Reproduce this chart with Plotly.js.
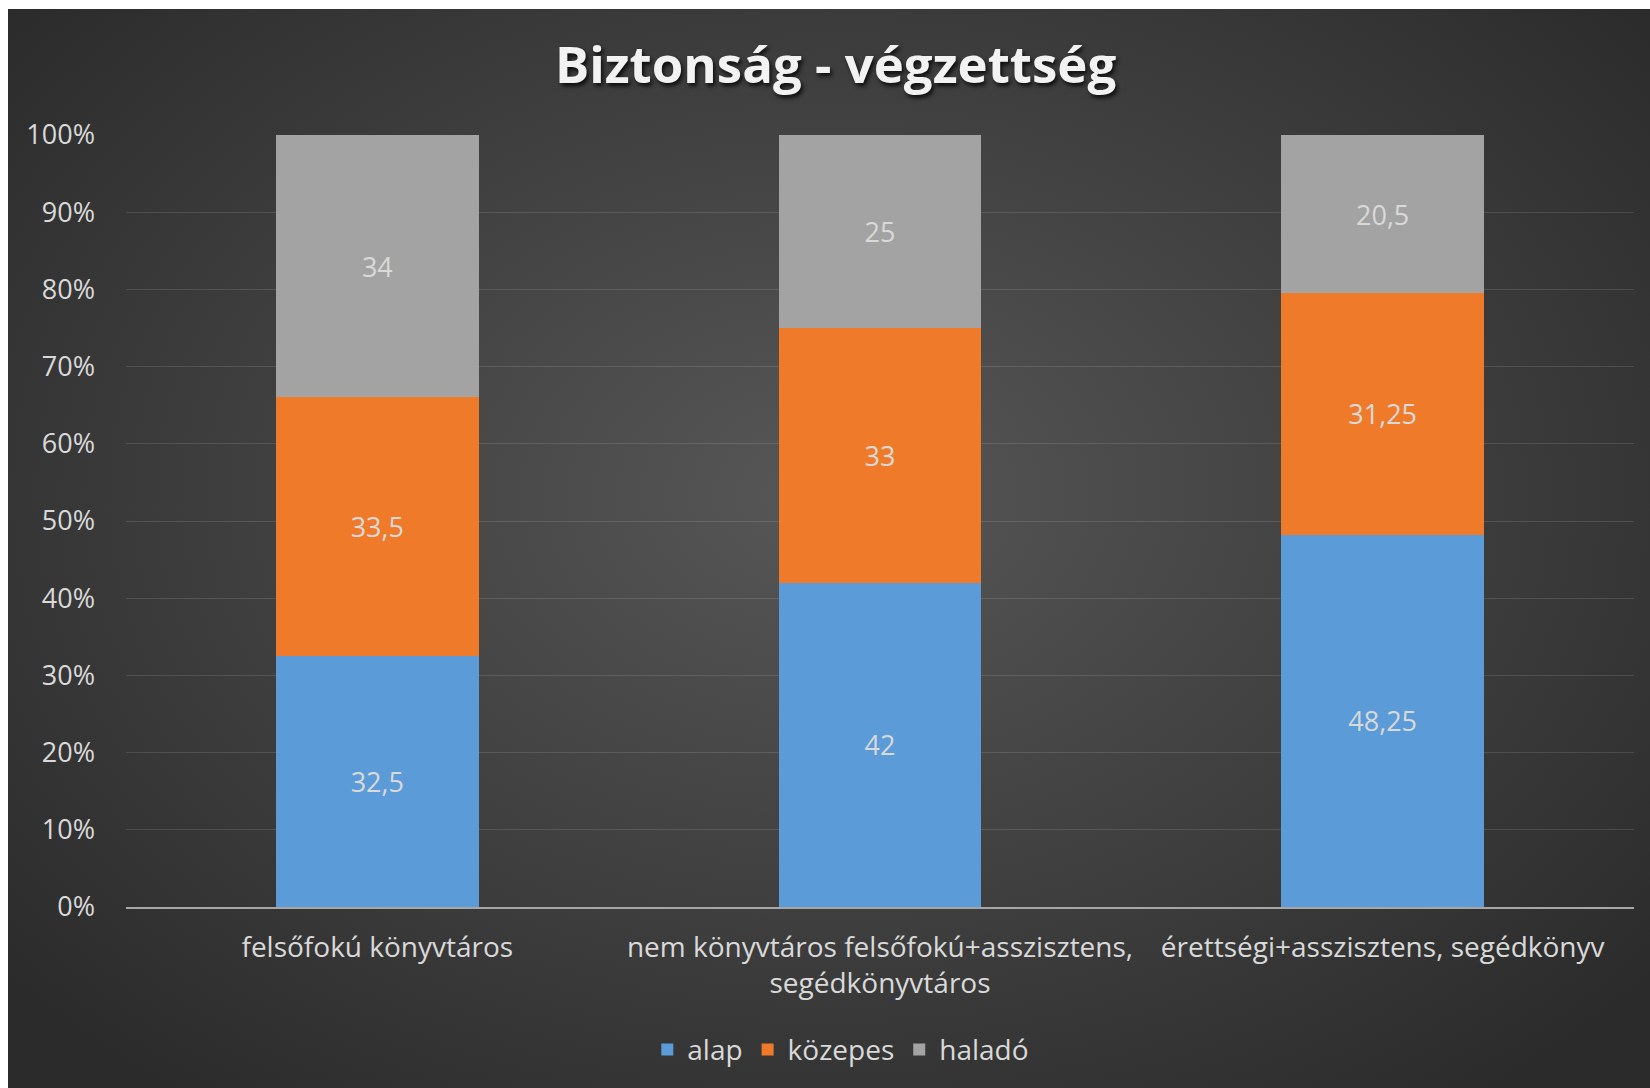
<!DOCTYPE html>
<html>
<head>
<meta charset="utf-8">
<script src="https://cdn.plot.ly/plotly-3.0.1.min.js"></script>
<style>
  html, body { margin: 0; padding: 0; background: #ffffff; width: 1650px; height: 1088px; overflow: hidden; }
  #chart {
    position: absolute; left: 8px; top: 9px; width: 1642px; height: 1079px;
    background: radial-gradient(ellipse 65% 70% at 50% 45%, #575757 0%, #414141 50%, #2b2b2b 100%);
  }
</style>
</head>
<body>
<div id="chart"></div>
<script>
const categories = [
  "felsőfokú könyvtáros",
  "nem könyvtáros felsőfokú+asszisztens,<br>segédkönyvtáros",
  "érettségi+asszisztens, segédkönyv"
];
const seriesNames = ["alap", "közepes", "haladó"];
const alap = [32.5, 42, 48.25];
const kozepes = [33.5, 33, 31.25];
const halado = [34, 25, 20.5];
const colors = ["#5b9bd7", "#ef7b2a", "#a3a3a3"];

const fmt = v => String(v).replace('.', ',');
const seriesValues = [alap, kozepes, halado];

const traces = seriesValues.map((vals, i) => ({
  type: 'bar',
  name: seriesNames[i],
  x: categories,
  y: vals,
  text: vals.map(fmt),
  textposition: 'inside',
  insidetextanchor: 'middle',
  textangle: 0,
  textfont: { family: 'Open Sans', size: 27, color: '#d9d9d9' },
  marker: { color: colors[i], line: { width: 0 } },
  hoverinfo: 'skip'
}));

const layout = {
  width: 1642,
  height: 1079,
  paper_bgcolor: 'rgba(0,0,0,0)',
  plot_bgcolor: 'rgba(0,0,0,0)',
  barmode: 'stack',
  bargap: 0.597,
  margin: { l: 118, r: 16, t: 126, b: 181 },
  separators: ',.',
  title: {
    text: 'Biztonság - végzettség',
    x: 0.504, xanchor: 'center',
    y: 1 - 56 / 1079, yanchor: 'middle', yref: 'container',
    font: { family: 'Open Sans', size: 51, weight: 700, color: '#f2f2f2', shadow: '2px 3px 4px rgba(0,0,0,0.8)' }
  },
  xaxis: {
    type: 'category',
    showgrid: false,
    showline: true,
    linecolor: '#a6a6a6',
    linewidth: 2,
    ticks: '',
    ticklabelstandoff: 14,
    tickfont: { family: 'Open Sans', size: 28, color: '#d9d9d9' },
    fixedrange: true
  },
  yaxis: {
    range: [0, 100],
    tickmode: 'array',
    tickvals: [0, 10, 20, 30, 40, 50, 60, 70, 80, 90, 100],
    ticktext: ['0%', '10%', '20%', '30%', '40%', '50%', '60%', '70%', '80%', '90%', '100%'],
    showgrid: true,
    gridcolor: 'rgba(255,255,255,0.12)',
    gridwidth: 1,
    zeroline: false,
    showline: false,
    ticks: '',
    ticklabelstandoff: 30,
    tickfont: { family: 'Open Sans', size: 27, color: '#d9d9d9' },
    fixedrange: true
  },
  showlegend: true,
  legend: {
    orientation: 'h',
    x: 0.474, xanchor: 'center',
    y: -0.185, yanchor: 'middle',
    font: { family: 'Open Sans', size: 28, color: '#d9d9d9' },
    bgcolor: 'rgba(0,0,0,0)',
    itemwidth: 30,
    traceorder: 'normal'
  }
};

Plotly.newPlot('chart', traces, layout, { displayModeBar: false, staticPlot: true });
</script>
</body>
</html>
